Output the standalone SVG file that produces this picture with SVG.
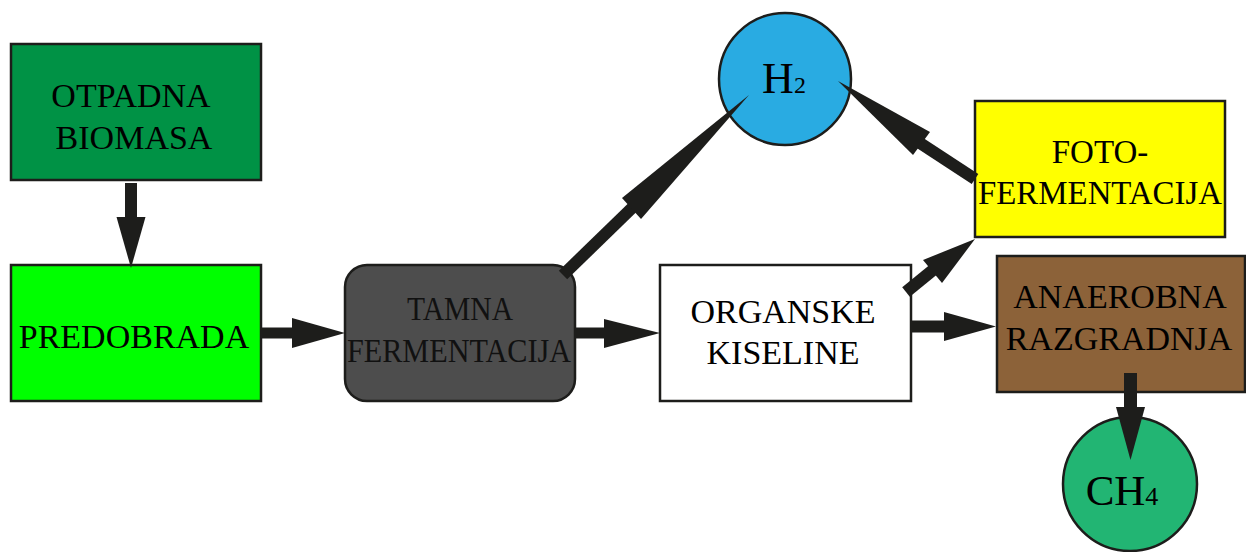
<svg xmlns="http://www.w3.org/2000/svg" width="1246" height="552" viewBox="0 0 1246 552">
<style>
.box{stroke:#1D1D1B;stroke-width:2.5}
.t{font-family:"Liberation Serif","Times New Roman",serif;font-size:34px;fill:#000;text-anchor:middle}
.arr{fill:#1D1D1B}
.sh{stroke:#1D1D1B;stroke-width:12;fill:none}
</style>
<rect width="1246" height="552" fill="#fff"/>
<g id="otpadna">
<rect class="box" x="11" y="44" width="250" height="136" fill="#009245"/>
<text class="t" x="131" y="107">OTPADNA</text>
<text class="t" x="134" y="149">BIOMASA</text>
</g>
<g id="predobrada">
<rect class="box" x="11" y="265" width="250" height="136" fill="#00FF00"/>
<text class="t" x="134" y="348">PREDOBRADA</text>
</g>
<g id="tamna">
<rect class="box" x="345" y="265" width="230" height="136" rx="22" fill="#4D4D4D"/>
<text class="t" x="460" y="320" fill="#111" textLength="106" lengthAdjust="spacingAndGlyphs" style="fill:#111">TAMNA</text>
<text class="t" x="459" y="362" textLength="224" lengthAdjust="spacingAndGlyphs" style="fill:#111">FERMENTACIJA</text>
</g>
<g id="organske">
<rect class="box" x="660" y="265" width="251" height="136" fill="#FFFFFF"/>
<text class="t" x="783" y="323">ORGANSKE</text>
<text class="t" x="783" y="364">KISELINE</text>
</g>
<g id="h2">
<circle class="box" cx="785" cy="79" r="66" fill="#29ABE2"/>
<text class="t" x="784" y="93" style="font-size:44px">H<tspan style="font-size:24px">2</tspan></text>
</g>
<g id="foto">
<rect class="box" x="975" y="101" width="250" height="136" fill="#FFFF00"/>
<text class="t" x="1100" y="163" style="font-size:33px">FOTO-</text>
<text class="t" x="1100" y="204" style="font-size:33px" textLength="244" lengthAdjust="spacingAndGlyphs">FERMENTACIJA</text>
</g>
<g id="anaerobna">
<rect class="box" x="997" y="256" width="248" height="136" fill="#8C6239"/>
<text class="t" x="1120" y="308">ANAEROBNA</text>
<text class="t" x="1119" y="350">RAZGRADNJA</text>
</g>
<g id="ch4">
<circle class="box" cx="1130" cy="484" r="67" fill="#22B573"/>
<text class="t" x="1122" y="505" style="font-size:43px">CH<tspan style="font-size:26px">4</tspan></text>
</g>
<g id="connectors">
<line class="sh" x1="131" y1="183" x2="131" y2="218"/>
<polygon class="arr" points="116.5,217 145.5,217 131,268"/>
<line class="sh" x1="261" y1="333" x2="293" y2="333" style="stroke-width:11"/>
<polygon class="arr" points="292,318 292,348 345,333"/>
<line class="sh" x1="575" y1="333" x2="605" y2="333" style="stroke-width:11"/>
<polygon class="arr" points="604,319 604,348 660,333"/>
<line class="sh" x1="911" y1="326.5" x2="945" y2="326.5"/>
<polygon class="arr" points="944,312 944,341 996,326.5"/>
<line class="sh" x1="1130.5" y1="373" x2="1130.5" y2="408" style="stroke-width:13"/>
<polygon class="arr" points="1116,407 1145,407 1130.5,460"/>
<line class="sh" x1="563" y1="275" x2="633" y2="207"/>
<polygon class="arr" points="622,198 641,219 749,95"/>
<line class="sh" x1="975" y1="179" x2="920" y2="143"/>
<polygon class="arr" points="930,132 913,155 838,81"/>
<line class="sh" x1="906" y1="292" x2="933" y2="270"/>
<polygon class="arr" points="923,260 942,283 975,239"/>
</g>
</svg>
